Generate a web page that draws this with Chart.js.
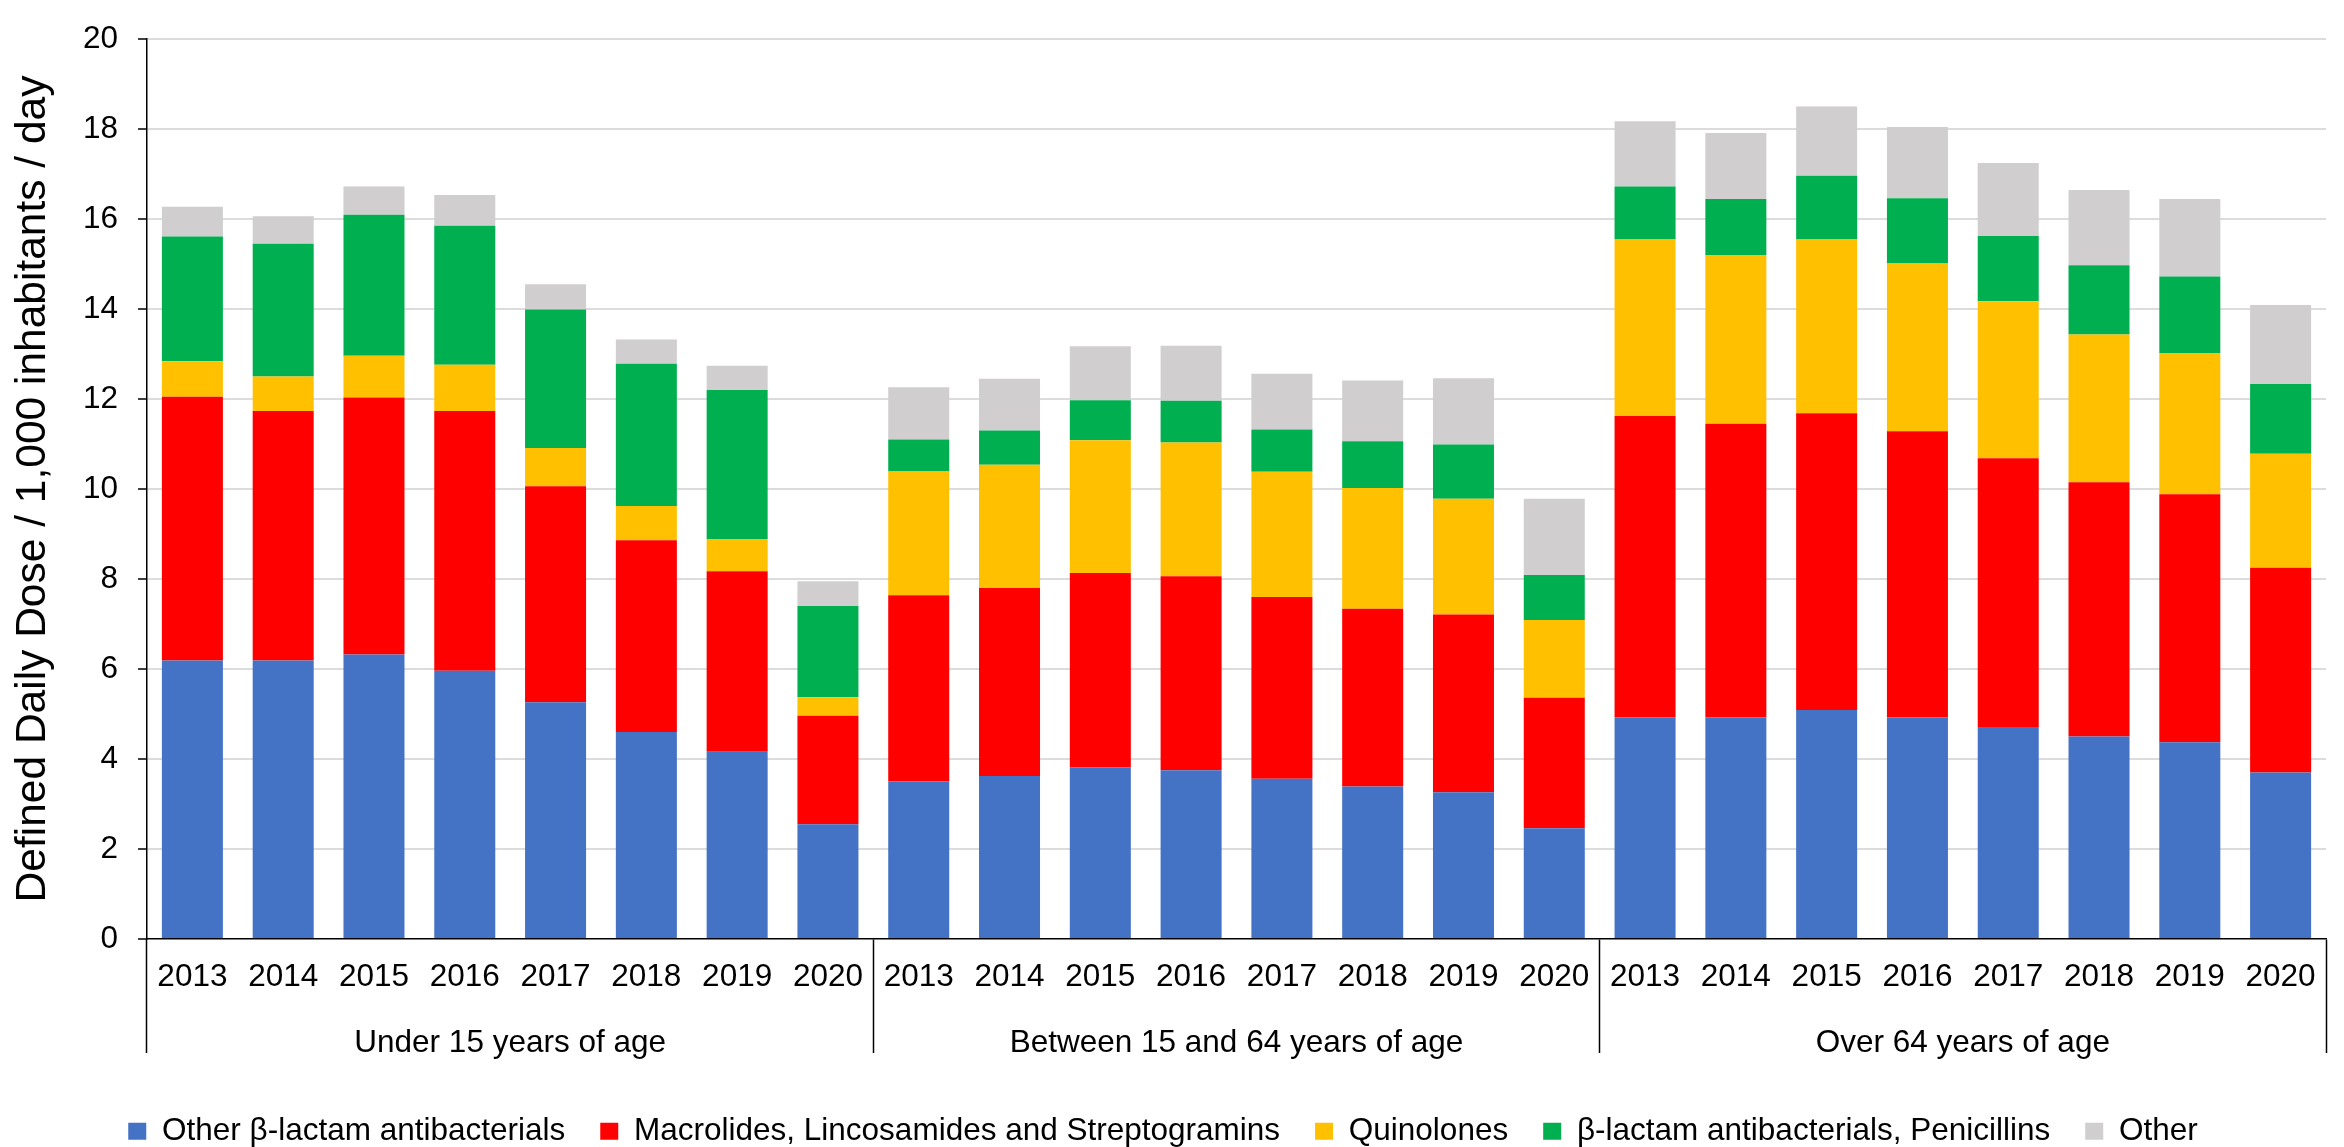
<!DOCTYPE html>
<html>
<head>
<meta charset="utf-8">
<script src="https://cdn.jsdelivr.net/npm/chart.js@4.4.1/dist/chart.umd.min.js"></script>
<style>
  html, body { margin: 0; padding: 0; background: #fff; }
  #wrap { width: 2344px; height: 1147px; }
</style>
</head>
<body>
<div id="wrap"><canvas id="c" width="2344" height="1147"></canvas></div>
<script>
// Years within each age group, repeated for the three groups
const years = ['2013', '2014', '2015', '2016', '2017', '2018', '2019', '2020'];
const ageGroups = ['Under 15 years of age', 'Between 15 and 64 years of age', 'Over 64 years of age'];
const categories = [...years, ...years, ...years];

// DDD / 1,000 inhabitants / day per antibacterial class (stack segments)
// order: under 15 (2013-2020), 15-64 (2013-2020), over 64 (2013-2020)
const otherBetaLactam = [
  6.19, 6.19, 6.32, 5.96, 5.26, 4.60, 4.16, 2.55,
  3.50, 3.62, 3.81, 3.75, 3.56, 3.39, 3.26, 2.46,
  4.93, 4.92, 5.09, 4.92, 4.71, 4.50, 4.37, 3.70
];
const macrolides = [
  5.86, 5.54, 5.71, 5.77, 4.80, 4.26, 4.01, 2.41,
  4.14, 4.18, 4.32, 4.31, 4.04, 3.95, 3.95, 2.90,
  6.69, 6.53, 6.59, 6.36, 5.97, 5.65, 5.51, 4.55
];
const quinolones = [
  0.79, 0.77, 0.93, 1.03, 0.85, 0.76, 0.72, 0.41,
  2.75, 2.74, 2.95, 2.97, 2.78, 2.68, 2.57, 1.73,
  3.92, 3.75, 3.86, 3.73, 3.49, 3.28, 3.14, 2.53
];
const penicillins = [
  2.77, 2.95, 3.13, 3.09, 3.08, 3.16, 3.31, 2.03,
  0.71, 0.76, 0.89, 0.93, 0.94, 1.04, 1.21, 1.00,
  1.18, 1.24, 1.42, 1.45, 1.45, 1.54, 1.70, 1.55
];
const otherClasses = [
  0.66, 0.61, 0.63, 0.68, 0.56, 0.54, 0.54, 0.55,
  1.16, 1.15, 1.20, 1.22, 1.24, 1.35, 1.47, 1.69,
  1.45, 1.47, 1.54, 1.58, 1.62, 1.67, 1.72, 1.76
];

const yTicks = { min: 0, max: 20, step: 2 };
const yTitle = 'Defined Daily Dose / 1,000 inhabitants / day';

const FONT = '"Liberation Sans", Arial, sans-serif';
const TEXT_SIZE = 31.5;
const BLACK = '#000000';
const NONE = 'rgba(0,0,0,0)';

const series = [
  { label: 'Other \u03B2-lactam antibacterials', data: otherBetaLactam, color: '#4472C4' },
  { label: 'Macrolides, Lincosamides and Streptogramins', data: macrolides, color: '#FF0000' },
  { label: 'Quinolones', data: quinolones, color: '#FFC000' },
  { label: '\u03B2-lactam antibacterials, Penicillins', data: penicillins, color: '#00B050' },
  { label: 'Other', data: otherClasses, color: '#D0CECE' }
];

// group separators sit on every 8th category boundary (plus the closing edge)
const groupSize = years.length;
const isGroupEdge = ctx => ctx.type !== 'tick' || ctx.index % groupSize === 0;

new Chart(document.getElementById('c'), {
  type: 'bar',
  data: {
    labels: categories,
    datasets: series.map(s => ({
      label: s.label,
      data: s.data,
      backgroundColor: s.color,
      borderWidth: 0,
      categoryPercentage: 1.0,
      barPercentage: 0.672
    }))
  },
  options: {
    responsive: false,
    devicePixelRatio: 1,
    animation: false,
    layout: { padding: { top: 21, right: 18, bottom: -10, left: 0 } },
    plugins: {
      tooltip: { enabled: false },
      legend: {
        position: 'bottom',
        labels: {
          color: BLACK,
          font: { family: FONT, size: TEXT_SIZE },
          boxWidth: 18,
          boxHeight: 17,
          padding: 35
        }
      }
    },
    scales: {
      x: {
        type: 'category',
        stacked: true,
        position: 'bottom',
        offset: true,
        grid: {
          display: true,
          drawOnChartArea: false,
          drawTicks: true,
          offset: true,
          tickLength: 114,
          tickWidth: 1.5,
          color: NONE,
          tickColor: ctx => isGroupEdge(ctx) ? BLACK : NONE
        },
        border: { display: true, color: BLACK, width: 1.5 },
        ticks: {
          color: BLACK,
          font: { family: FONT, size: TEXT_SIZE },
          autoSkip: false,
          maxRotation: 0,
          minRotation: 0,
          padding: -94.5
        },
        afterFit: scale => { scale.height = 56; }
      },
      group: {
        type: 'category',
        labels: ageGroups,
        position: 'bottom',
        offset: true,
        grid: { display: false },
        border: { display: false },
        ticks: {
          color: BLACK,
          font: { family: FONT, size: TEXT_SIZE },
          autoSkip: false,
          maxRotation: 0,
          minRotation: 0,
          padding: 21
        },
        afterFit: scale => { scale.height = 85.5; }
      },
      y: {
        stacked: true,
        min: yTicks.min,
        max: yTicks.max,
        ticks: {
          stepSize: yTicks.step,
          color: BLACK,
          font: { family: FONT, size: TEXT_SIZE },
          padding: 20
        },
        grid: {
          color: ctx => (ctx.tick && ctx.tick.value === 0) ? NONE : '#DCDCDC',
          lineWidth: 2,
          drawTicks: true,
          tickLength: 9,
          tickColor: BLACK,
          tickWidth: 1.5
        },
        border: { display: true, color: BLACK, width: 1.5 },
        title: {
          display: true,
          text: yTitle,
          color: BLACK,
          font: { family: FONT, size: 42.5 },
          padding: { top: 8, bottom: 0 }
        },
        afterFit: scale => { scale.width = 147; }
      }
    }
  }
});
</script>
</body>
</html>
